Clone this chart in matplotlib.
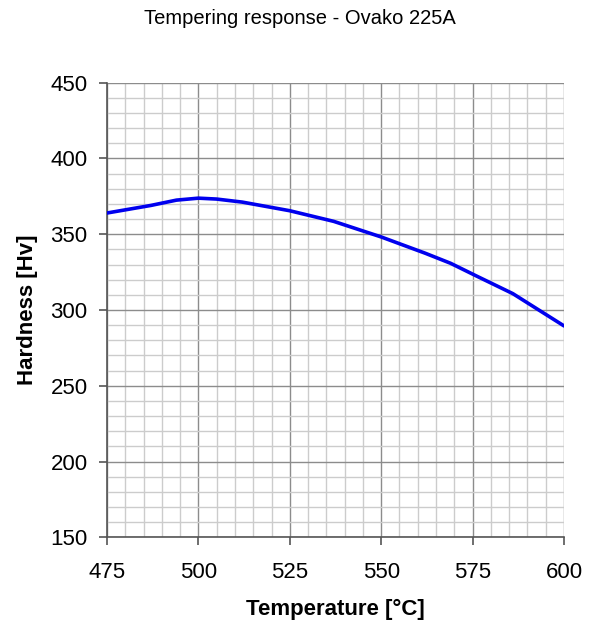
import matplotlib
matplotlib.use("Agg")
import matplotlib.pyplot as plt
from matplotlib.ticker import MultipleLocator

temperature = [475, 487, 494, 500, 505, 512, 525, 537, 550, 562, 569, 576, 586, 600]
hardness = [364, 369, 372.5, 373.8, 373.2, 371.2, 365.5, 358.5, 348.2, 337.5, 330.8, 322.5, 310.8, 289.5]

plt.rcParams['font.family'] = ['Liberation Sans', 'DejaVu Sans']

fig = plt.figure(figsize=(5.99, 6.25), dpi=100)
ax = fig.add_axes([0.1786, 0.1403, 0.763, 0.7274])

ax.plot(temperature, hardness, color='#0000EE', lw=2.6, solid_capstyle='round', zorder=3)

ax.set_xlim(475, 600)
ax.set_ylim(150, 450)
ax.xaxis.set_major_locator(MultipleLocator(25))
ax.xaxis.set_minor_locator(MultipleLocator(5))
ax.yaxis.set_major_locator(MultipleLocator(50))
ax.yaxis.set_minor_locator(MultipleLocator(10))

ax.grid(which='minor', color='#cccccc', lw=1.0)
ax.grid(which='major', color='#8c8c8c', lw=1.0)
ax.set_axisbelow(True)

for side in ['top', 'right']:
    ax.spines[side].set_visible(False)
for side in ['left', 'bottom']:
    ax.spines[side].set_color('#555555')
    ax.spines[side].set_linewidth(1.2)

ax.tick_params(which='major', direction='out', length=6, width=1.2, color='#555555', labelsize=16)
ax.tick_params(axis='y', pad=8)
ax.tick_params(axis='x', pad=12)
ax.tick_params(which='minor', length=0)

ax.set_xlabel('Temperature [°C]', fontsize=16, fontweight='bold', labelpad=11)
ax.set_ylabel('Hardness [Hv]', fontsize=16, fontweight='bold', labelpad=9)
fig.text(0.5, 0.971, 'Tempering response - Ovako 225A', fontsize=14.5, ha='center', va='center')

fig.savefig('out.png', dpi=100)
